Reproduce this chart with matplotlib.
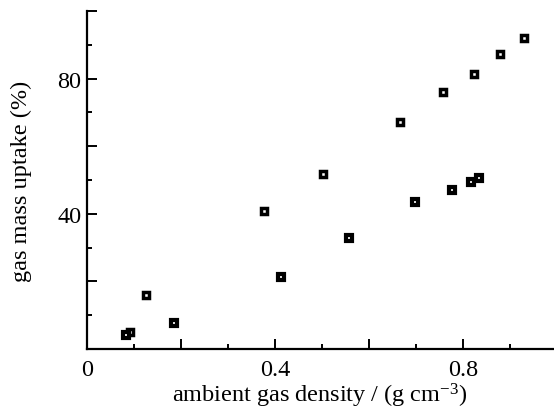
import matplotlib
matplotlib.use("Agg")
from matplotlib import pyplot as plt
from matplotlib.ticker import MultipleLocator, FixedFormatter, FixedLocator

# gas mass uptake vs ambient gas density, two sets of runs
upper_density = [0.091, 0.125, 0.377, 0.503, 0.666, 0.758, 0.823, 0.879, 0.930]
upper_uptake = [5.0, 16.0, 40.7, 51.9, 67.3, 76.1, 81.3, 87.4, 92.1]

lower_density = [0.083, 0.185, 0.413, 0.557, 0.698, 0.777, 0.818, 0.834]
lower_uptake = [4.2, 7.7, 21.3, 32.8, 43.4, 47.0, 49.4, 50.6]

x_ticks = [0, 0.2, 0.4, 0.6, 0.8]
x_labels = ["0", "", "0.4", "", "0.8"]
y_ticks = [0, 20, 40, 60, 80, 100]
y_labels = ["", "", "40", "", "80", ""]

plt.rcParams["font.family"] = "Liberation Serif"
plt.rcParams["mathtext.fontset"] = "custom"
plt.rcParams["mathtext.rm"] = "Liberation Serif"
plt.rcParams["mathtext.it"] = "Liberation Serif:italic"

fig = plt.figure(figsize=(5.54, 4.14), dpi=100)
ax = fig.add_axes([87 / 554, 1 - 350 / 414, 466 / 554, 338 / 414])

ax.plot(upper_density, upper_uptake, "s", ms=4.8, mfc="white", mec="black",
        mew=2.5, clip_on=False)
ax.plot(lower_density, lower_uptake, "s", ms=4.4, mfc="white", mec="black",
        mew=3.0, clip_on=False)

ax.set_xlim(0, 0.992)
ax.set_ylim(0, 100)

for side in ("top", "right"):
    ax.spines[side].set_visible(False)
for side in ("left", "bottom"):
    ax.spines[side].set_linewidth(1.6)

ax.xaxis.set_major_locator(FixedLocator(x_ticks))
ax.xaxis.set_major_formatter(FixedFormatter(x_labels))
ax.xaxis.set_minor_locator(MultipleLocator(0.1))
ax.yaxis.set_major_locator(FixedLocator(y_ticks))
ax.yaxis.set_major_formatter(FixedFormatter(y_labels))
ax.yaxis.set_minor_locator(MultipleLocator(10))

ax.tick_params(which="both", direction="in", width=1.4, labelsize=17.5)
ax.tick_params(which="major", length=7)
ax.tick_params(which="minor", length=3.5)
ax.tick_params(axis="x", pad=7)
ax.tick_params(axis="y", pad=4)

ax.set_xlabel(r"ambient gas density / (g cm$^{-3}$)", fontsize=17.5, labelpad=1)
ax.set_ylabel("gas mass uptake (%)", fontsize=17.5, labelpad=18)

fig.savefig("out.png", dpi=100)
